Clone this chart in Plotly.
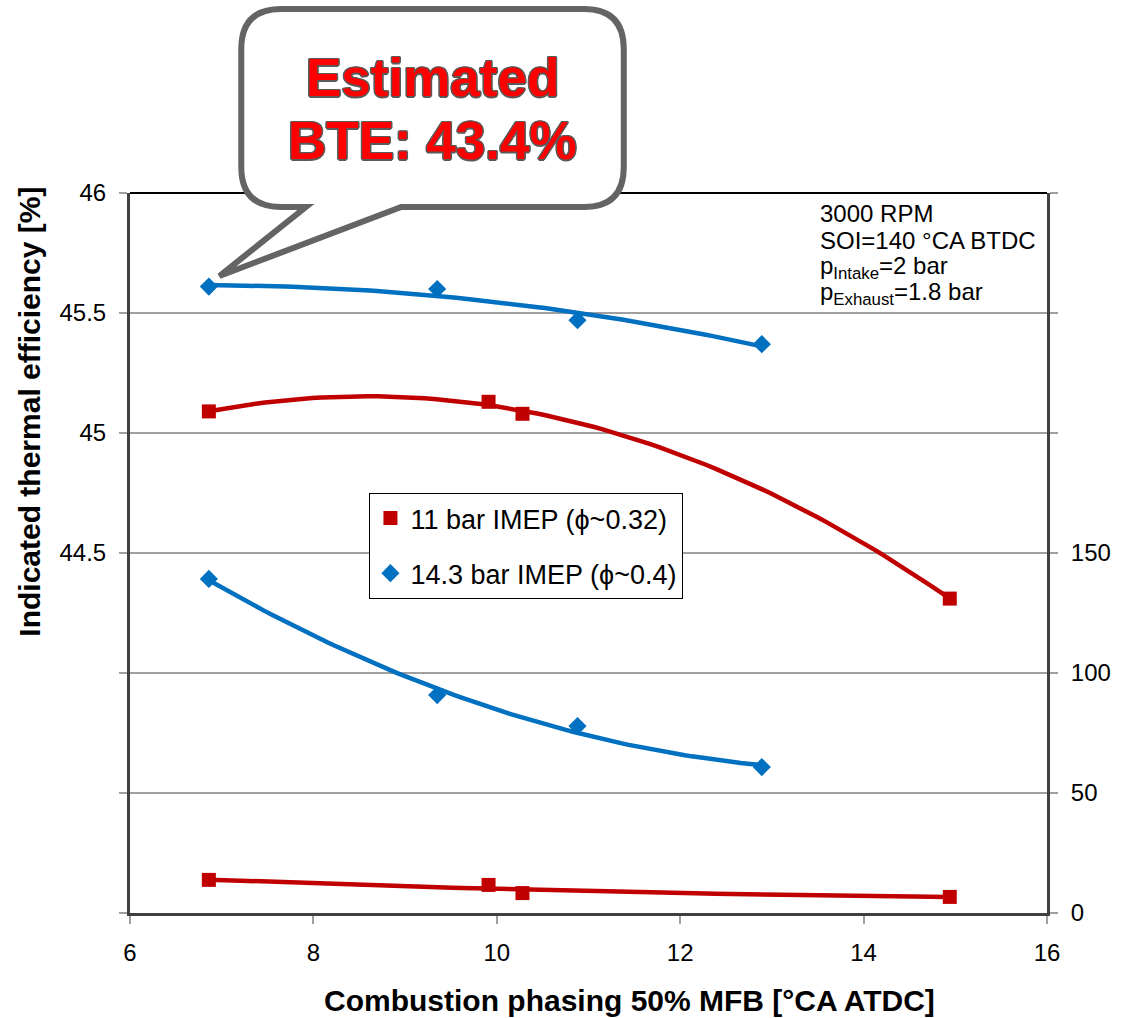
import numpy as np
import plotly.graph_objects as go

# ---- measured data -------------------------------------------------------
# Combustion phasing (50% MFB, degCA ATDC)
phasing_11bar = [6.86, 9.91, 10.28, 14.94]
phasing_14bar = [6.86, 9.35, 10.88, 12.89]

# Indicated thermal efficiency [%] (left axis)
ite_11bar = [45.09, 45.13, 45.08, 44.31]
ite_14bar = [45.61, 45.60, 45.47, 45.37]

# Secondary quantity (right axis)
secondary_11bar = [13.8, 11.7, 8.3, 6.7]
secondary_14bar = [139.2, 90.8, 77.9, 60.8]

x_ticks = [6, 8, 10, 12, 14, 16]
left_ticks = [44.5, 45, 45.5, 46]
left_unlabelled = [43, 43.5, 44]
right_ticks = [0, 50, 100, 150]
right_unlabelled = [200, 250, 300]

series_11 = "11 bar IMEP (\u03d5~0.32)"
series_14 = "14.3 bar IMEP (\u03d5~0.4)"

RED = "#C00000"
BLUE = "#0070C0"
FONT = "Liberation Sans, Arial, sans-serif"
GRID = "#A0A0A0"
AXIS = "#404040"

# ---- page geometry (pixels) ----------------------------------------------
W, H = 1123, 1018
PL, PR, PT, PB = 130, 1053, 193, 913


def xp(px):
    return (px - PL) / (PR - PL)


def yp(py):
    return (PB - py) / (PB - PT)


def trend(x, y, n=80):
    """2nd-order polynomial trend line over the measured phasing range."""
    c = np.polyfit(x, y, 2)
    xs = np.linspace(min(x), max(x), n)
    return xs, np.polyval(c, xs)


fig = go.Figure()

# trend lines underneath the markers
for x, y, color, axis in [
    (phasing_11bar, ite_11bar, RED, "y"),
    (phasing_14bar, ite_14bar, BLUE, "y"),
    (phasing_11bar, secondary_11bar, RED, "y2"),
    (phasing_14bar, secondary_14bar, BLUE, "y2"),
]:
    xs, ys = trend(x, y)
    fig.add_trace(go.Scatter(x=xs, y=ys, mode="lines", yaxis=axis,
                             line=dict(color=color, width=4.5),
                             showlegend=False, hoverinfo="skip"))

# markers
fig.add_trace(go.Scatter(x=phasing_11bar, y=ite_11bar, mode="markers", name=series_11,
                         legendgroup="a",
                         marker=dict(symbol="square", size=14, color=RED)))
fig.add_trace(go.Scatter(x=phasing_14bar, y=ite_14bar, mode="markers", name=series_14,
                         legendgroup="b",
                         marker=dict(symbol="diamond", size=14, color=BLUE)))
fig.add_trace(go.Scatter(x=phasing_11bar, y=secondary_11bar, mode="markers", yaxis="y2",
                         legendgroup="a", showlegend=False,
                         marker=dict(symbol="square", size=14, color=RED)))
fig.add_trace(go.Scatter(x=phasing_14bar, y=secondary_14bar, mode="markers", yaxis="y2",
                         legendgroup="b", showlegend=False,
                         marker=dict(symbol="diamond", size=14, color=BLUE)))

tick_font = dict(family=FONT, size=24, color="#000000")
tick_style = dict(ticks="outside", ticklen=8, tickwidth=2, tickcolor=GRID)

fig.update_layout(
    width=W, height=H,
    margin=dict(l=PL, r=W - PR, t=PT, b=H - PB, pad=0),
    paper_bgcolor="white", plot_bgcolor="white",
    showlegend=True,
    xaxis=dict(range=[6, 16], tickvals=x_ticks, showgrid=False, zeroline=False,
               showline=True, linecolor=AXIS, linewidth=3,
               tickfont=tick_font, ticklabelstandoff=8, **tick_style),
    yaxis=dict(range=[43, 46], tickvals=left_ticks,
               showgrid=False, zeroline=False,
               showline=True, linecolor=AXIS, linewidth=3,
               minor=dict(tickvals=left_unlabelled, showgrid=False, **tick_style),
               tickfont=tick_font, ticklabelstandoff=8, **tick_style),
    yaxis2=dict(range=[0, 300], tickvals=right_ticks,
                overlaying="y", side="right", showgrid=True,
                gridcolor=GRID, gridwidth=1.5, zeroline=False,
                showline=True, linecolor=AXIS, linewidth=3,
                minor=dict(tickvals=right_unlabelled, showgrid=True,
                           gridcolor=GRID, gridwidth=1.5, **tick_style),
                tickfont=tick_font, ticklabelstandoff=8, layer="below traces",
                **tick_style),
    legend=dict(x=xp(371), y=yp(493), xanchor="left", yanchor="top",
                bgcolor="white", bordercolor="#000000", borderwidth=1,
                font=dict(family=FONT, size=27, color="#000000"),
                traceorder="grouped", tracegroupgap=17, itemwidth=30),
)

shapes = []
# black top border of the plot area
shapes.append(dict(type="line", xref="paper", yref="paper", x0=0, x1=1, y0=1, y1=1,
                   line=dict(color="#000000", width=2), layer="above"))

# speech-bubble callout
L, R, T, B, r = 242, 627, 9, 207, 40
tail_l, tail_r, tip = 307, 403, (220, 276)
pts = [
    ("M", [(L + r, T)]), ("L", [(R - r, T)]), ("Q", [(R, T), (R, T + r)]),
    ("L", [(R, B - r)]), ("Q", [(R, B), (R - r, B)]), ("L", [(tail_r, B)]),
    ("L", [tip]), ("L", [(tail_l, B)]), ("L", [(L + r, B)]),
    ("Q", [(L, B), (L, B - r)]), ("L", [(L, T + r)]), ("Q", [(L, T), (L + r, T)]),
]
path = " ".join(cmd + " ".join(f"{xp(a):.5f},{yp(b):.5f}" for a, b in p) for cmd, p in pts) + " Z"
shapes.append(dict(type="path", xref="paper", yref="paper", path=path,
                   fillcolor="white", line=dict(color="#646464", width=6), layer="above"))
fig.update_layout(shapes=shapes)

outline = ("1.5px 0 0 #5a5a5a, -1.5px 0 0 #5a5a5a, 0 1.5px 0 #5a5a5a, 0 -1.5px 0 #5a5a5a, "
           "1px 1px 0 #5a5a5a, -1px -1px 0 #5a5a5a, 1px -1px 0 #5a5a5a, -1px 1px 0 #5a5a5a")
callout_font = dict(family=FONT, size=53, color="#FF0000", weight="bold", shadow=outline)

annotations = [
    dict(text="Estimated", x=xp(434), y=yp(78), font=callout_font),
    dict(text="BTE: 43.4%", x=xp(434), y=yp(140), font=callout_font),
]
for a in annotations:
    a.update(xref="paper", yref="paper", showarrow=False, xanchor="center", yanchor="middle")

cond_font = dict(family=FONT, size=24, color="#000000")
cond_lines = [
    ("3000 RPM", 213),
    ("SOI=140 \u00b0CA BTDC", 240),
    ("p<sub>Intake</sub>=2 bar", 267),
    ("p<sub>Exhaust</sub>=1.8 bar", 294),
]
for txt, y in cond_lines:
    annotations.append(dict(text=txt, x=xp(822), y=yp(y), xref="paper", yref="paper",
                            xanchor="left", yanchor="middle", showarrow=False,
                            font=cond_font))

title_font = dict(family=FONT, size=30, color="#000000", weight="bold")
annotations.append(dict(text="Combustion phasing 50% MFB [\u00b0CA ATDC]",
                        x=xp(633), y=yp(1000), xref="paper", yref="paper",
                        xanchor="center", yanchor="middle", showarrow=False,
                        font=title_font))
annotations.append(dict(text="Indicated thermal efficiency [%]",
                        x=xp(28), y=yp(412), xref="paper", yref="paper",
                        xanchor="center", yanchor="middle", showarrow=False,
                        textangle=-90, font=title_font))

fig.update_layout(annotations=annotations)

fig.write_html("out.html")
